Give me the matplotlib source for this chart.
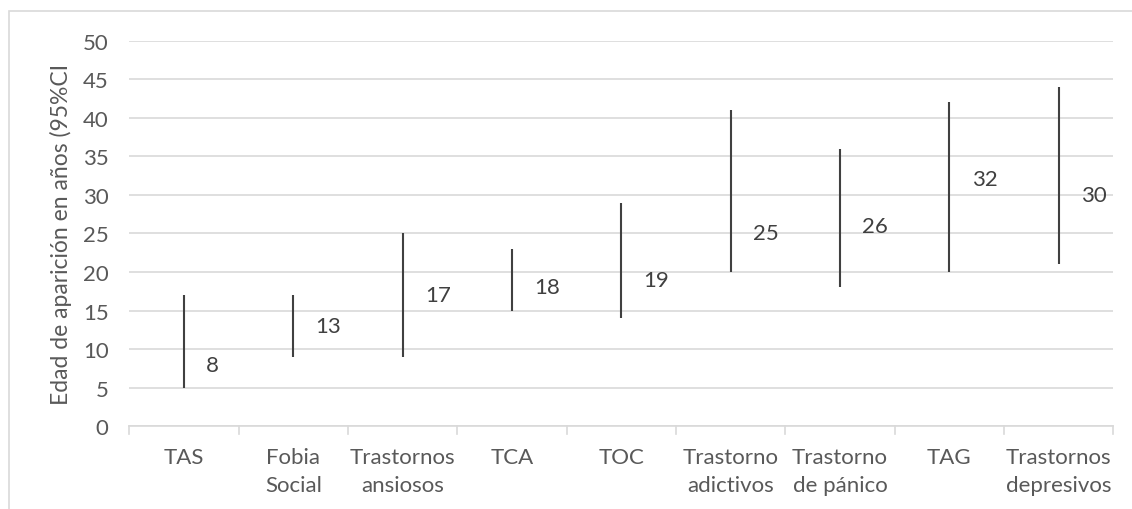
import matplotlib
matplotlib.use("Agg")
import matplotlib.pyplot as plt
from matplotlib.patches import Rectangle
from matplotlib.lines import Line2D

categories = ["TAS", "Fobia\nSocial", "Trastornos\nansiosos", "TCA", "TOC",
              "Trastorno\nadictivos", "Trastorno\nde pánico", "TAG", "Trastornos\ndepresivos"]
low = [5, 9, 9, 15, 14, 20, 18, 20, 21]
high = [17, 17, 25, 23, 29, 41, 36, 42, 44]
median = [8, 13, 17, 18, 19, 25, 26, 32, 30]
yticks = [0, 5, 10, 15, 20, 25, 30, 35, 40, 45, 50]
ylabel = "Edad de aparición en años (95%CI"

plt.rcParams['font.family'] = ['Lato', 'DejaVu Sans']
txt = "#595959"
grid = "#D9D9D9"

W, H = 1132, 510
fig = plt.figure(figsize=(W / 100, H / 100), dpi=100)
fig.patch.set_facecolor("white")

# chart border
fig.patches.append(Rectangle((8.5 / W, -0.2), 1.5, 1.2 - 12 / H, transform=fig.transFigure,
                             fill=False, edgecolor=grid, linewidth=1.2))

axw = 1113.3 - 129.3
ax = fig.add_axes([129.3 / W, 1 - 427.3 / H, axw / W, (427.3 - 41.5) / H])
n = len(categories)
x = list(range(n))
ax.vlines(x, low, high, color="#404040", linewidth=1.5, zorder=3)
for xi, m in zip(x, median):
    ax.annotate(str(m), (xi, m), xytext=(16, 0), textcoords="offset points",
                ha="left", va="center", fontsize=16, color="#404040")

ax.set_xlim(-0.5, n - 0.5)
ax.set_ylim(0, 50)
ax.set_yticks(yticks)
ax.yaxis.grid(True, color=grid, linewidth=1.2)
ax.set_axisbelow(True)
for s in ["top", "right", "left"]:
    ax.spines[s].set_visible(False)
ax.spines["bottom"].set_color(grid)
ax.spines["bottom"].set_linewidth(1.2)
ax.tick_params(axis="y", length=0, pad=15, labelsize=16, labelcolor=txt)
ax.set_xticks(x)
ax.set_xticklabels(categories, fontsize=16, color=txt, linespacing=1.5)
ax.tick_params(axis="x", length=0, pad=15)
# boundary tick marks
for b in [i - 0.5 for i in range(n + 1)]:
    ax.add_line(Line2D([b, b], [0, -1.0], color=grid, linewidth=1.2, clip_on=False))
ax.set_ylabel(ylabel, fontsize=16.5, color=txt)
ax.yaxis.set_label_coords((72 - 129.3) / axw, 0.5)

fig.savefig("out.png", dpi=100, facecolor="white")
